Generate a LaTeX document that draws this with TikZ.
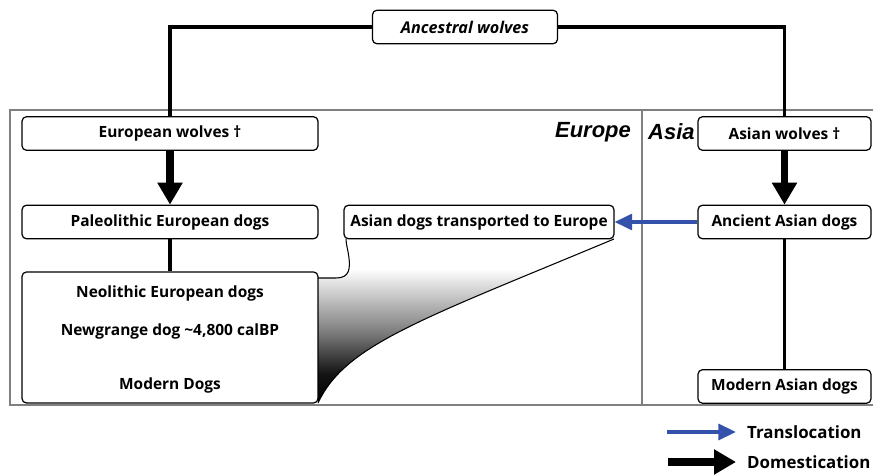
\documentclass[tikz,border=0pt]{standalone}
\usepackage{fontspec}
\setmainfont{Open Sans}
\newfontfamily\labelfont{Liberation Sans}
\usetikzlibrary{arrows.meta}
\definecolor{transblue}{RGB}{52,82,170}
\pgfdeclareverticalshading{fadeblack}{100bp}{rgb(0bp)=(0,0,0); rgb(25bp)=(0,0,0); rgb(34bp)=(0.08,0.08,0.08); rgb(47bp)=(0.5,0.5,0.5); rgb(66bp)=(1,1,1); rgb(100bp)=(1,1,1)}
\tikzset{
	box/.style={draw, rounded corners=2.5pt, line width=0.7pt, minimum height=0.67cm, inner sep=0pt, font=\bfseries\fontsize{8.8}{10}\selectfont},
	link/.style={line width=2.1pt},
	dom/.style={line width=4.5pt, -{Triangle[width=13.6pt,length=12.5pt]}},
	trans/.style={transblue, line width=2pt, -{Triangle[width=9pt,length=10pt]}},
	region/.style={gray, line width=0.9pt},
	txt/.style={font=\bfseries\fontsize{8.8}{10}\selectfont}
}
\begin{document}
\begin{tikzpicture}[x=0.02cm,y=-0.02cm]
	\useasboundingbox (0,0) rectangle (873,476);
	% regions
	\draw[region] (873,110) -- (10,110) -- (10,405) -- (873,405);
	\draw[region] (642,110) -- (642,405);
	\node[font=\labelfont\bfseries\itshape\fontsize{12.5}{14}\selectfont, anchor=east] (europe) at (637,132) {Europe};
	\node[font=\labelfont\bfseries\itshape\fontsize{12.5}{14}\selectfont, anchor=west] (asia) at (642,132) {Asia};
	% gradient
	\shade[shading=fadeblack] (318,403) -- (318,278) -- (336,278) .. controls (350,278) and (350,268) .. (349,258) .. controls (348,250) and (346,244) .. (346,239) -- (614,239) .. controls (420,320) and (345,345) .. (318,403);
	\draw[line width=0.6pt] (318,278) -- (336,278) .. controls (350,278) and (350,268) .. (349,258) .. controls (348,250) and (346,244) .. (346,239);
	\draw[line width=0.6pt] (614,239) .. controls (420,320) and (345,345) .. (318,403);
	% boxes
	\node[box, minimum width=3.7cm, font=\bfseries\itshape\fontsize{9.2}{10}\selectfont, fill=white] (anc) at (465,27) {Ancestral wolves};
	\node[box, minimum width=5.92cm] (euwolf) at (170,133.5) {European wolves \textdagger};
	\node[box, minimum width=5.92cm] (paleo) at (170,222) {Paleolithic European dogs};
	\node[box, minimum width=5.92cm, minimum height=2.62cm] (neo) at (170,337.5) {};
	\node[txt] (neotxt) at (170,293) {Neolithic European dogs};
	\node[txt] (newgrange) at (170,331) {Newgrange dog \textasciitilde 4,800 calBP};
	\node[txt] (moddogs) at (170,385) {Modern Dogs};
	\node[box, minimum width=5.4cm, fill=white] (asiaeu) at (479,222) {Asian dogs transported to Europe};
	\node[box, minimum width=3.46cm] (aswolf) at (784.5,133.5) {Asian wolves \textdagger};
	\node[box, minimum width=3.46cm] (ancas) at (784.5,222) {Ancient Asian dogs};
	\node[box, minimum width=3.46cm] (modas) at (784.5,386.5) {Modern Asian dogs};
	% connectors
	\draw[link] (euwolf.north) |- (anc.west);
	\draw[link] (aswolf.north) |- (anc.east);
	\draw[dom] (euwolf) -- (paleo);
	\draw[dom] (aswolf) -- (ancas);
	\draw[link] (paleo) -- (neo);
	\draw[link] (ancas) -- (modas);
	\draw[trans] (ancas) -- (asiaeu);
	% legend
	\coordinate (ltransa) at (667,432);
	\coordinate (ltransb) at (736,432);
	\coordinate (ldoma) at (668,462);
	\coordinate (ldomb) at (736,462);
	\draw[trans] (ltransa) -- (ltransb);
	\draw[dom] (ldoma) -- (ldomb);
	\node[txt, font=\bfseries\fontsize{9.6}{11}\selectfont, anchor=west] (ltrans) at (741,432) {Translocation};
	\node[txt, font=\bfseries\fontsize{9.6}{11}\selectfont, anchor=west] (ldom) at (741,462) {Domestication};
\end{tikzpicture}
\end{document}
